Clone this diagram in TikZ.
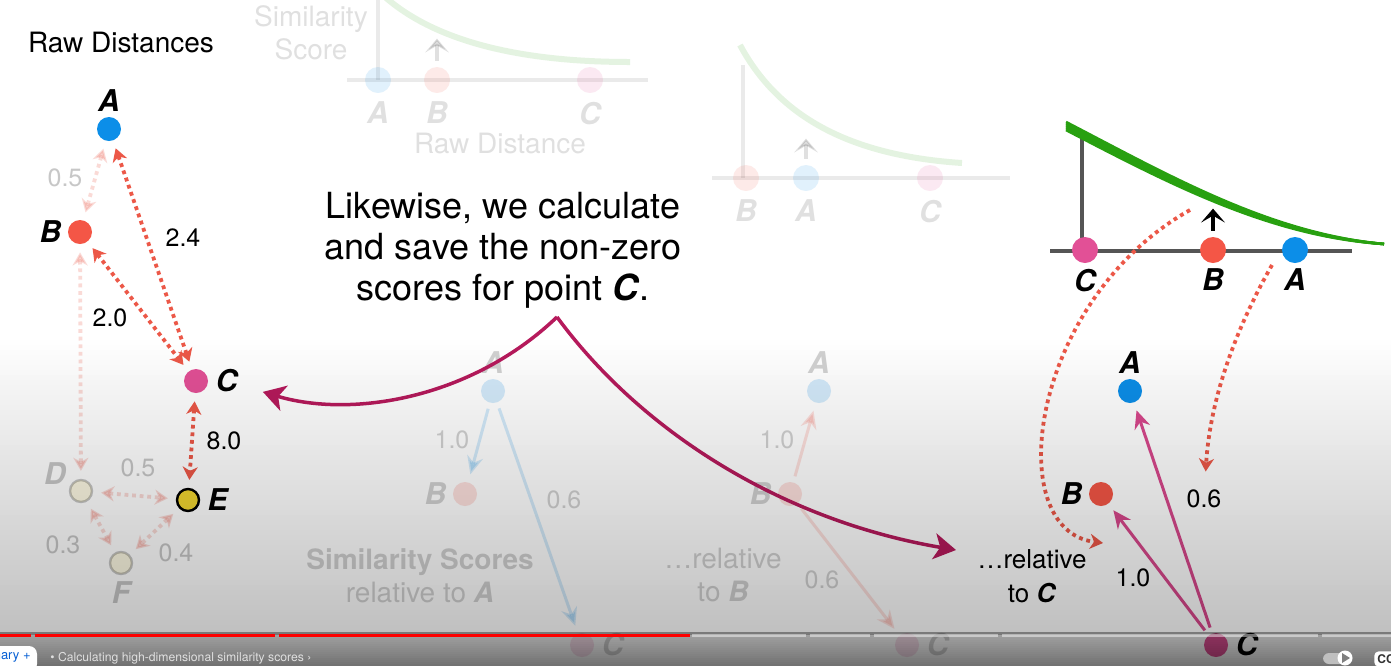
\documentclass[tikz,border=0pt]{standalone}
\usepackage{fontspec}
\setmainfont{TeX Gyre Heros}
\usetikzlibrary{arrows.meta,positioning,calc}
\definecolor{ptblue}{RGB}{12,142,232}
\definecolor{ptred}{RGB}{244,86,70}
\definecolor{ptpink}{RGB}{226,80,150}
\definecolor{ptyellow}{RGB}{242,214,48}
\definecolor{dotred}{RGB}{236,88,72}
\definecolor{simpink}{RGB}{216,72,140}
\definecolor{curvegreen}{RGB}{40,160,16}
\definecolor{plum}{RGB}{182,26,92}
\definecolor{axisgray}{RGB}{85,85,85}
\definecolor{ytblue}{RGB}{6,95,212}

\begin{document}
\begin{tikzpicture}[x=0.5pt, y=-0.5pt]
\tikzstyle{dot} = [circle, minimum size=12pt, inner sep=0pt]
\tikzstyle{bigdot} = [circle, minimum size=13pt, inner sep=0pt]
\tikzstyle{letter} = [inner sep=1pt, font=\fontsize{15}{15}\selectfont\bfseries\itshape]
\tikzstyle{score} = [inner sep=1pt, font=\fontsize{12.5}{13}\selectfont]
\tikzstyle{caption} = [inner sep=1pt, align=center, font=\fontsize{13}{17}\selectfont]
\tikzstyle{heading} = [inner sep=1pt, align=center, font=\fontsize{14}{16.5}\selectfont]
\tikzstyle{dist} = [dotred, line width=1.9pt, dash pattern=on 1.9pt off 1.9pt, shorten <=4pt, shorten >=4pt, {Stealth[length=6.5pt,width=7.5pt,inset=2pt]}-{Stealth[length=6.5pt,width=7.5pt,inset=2pt]}]
\tikzstyle{hint} = [dotred, line width=1.9pt, dash pattern=on 1.9pt off 1.9pt, -{Stealth[length=6.5pt,width=7.5pt,inset=2pt]}]
\tikzstyle{sim} = [line width=1.5pt, shorten <=3pt, shorten >=4pt, -{Stealth[length=9pt,width=8pt,inset=3pt]}]
\tikzstyle{axis} = [axisgray, line width=2pt]
\tikzstyle{bump} = [line width=2pt, -{Stealth[length=7pt,width=12pt,inset=3.5pt]}]
\tikzstyle{swoop} = [plum, line width=1.75pt, -{Stealth[length=11pt,width=13pt,inset=3pt]}]

\useasboundingbox (0,0) rectangle (1391,666);
\fill[white] (0,0) rectangle (1391,666);

% raw distances
\node[heading] (title) at (121,42) {Raw Distances};
\node[dot, fill=ptblue] (rawA) at (109,129) {};
\node[dot, fill=ptred] (rawB) at (80,232) {};
\node[dot, fill=ptpink] (rawC) at (196,381) {};
\node[dot, fill=ptyellow, draw=black, line width=1.2pt, minimum size=11pt] (rawE) at (188,500) {};
\node[letter, above=1.5pt of rawA] (rawAl) {A};
\node[letter, left=2pt of rawB] (rawBl) {B};
\node[letter, right=2.5pt of rawC] (rawCl) {C};
\node[letter, right=2.5pt of rawE] (rawEl) {E};
\begin{scope}[opacity=0.22]
\node[dot, fill=ptyellow!60, draw=black, line width=1.2pt, minimum size=11pt] (rawD) at (81,491) {};
\node[dot, fill=ptyellow!60, draw=black, line width=1.2pt, minimum size=11pt] (rawF) at (121,563) {};
\node[letter] (rawDl) at (55,474) {D};
\node[letter, below=2pt of rawF] (rawFl) {F};
\draw[dist] (rawA) -- (rawB);
\draw[dist] (rawB) -- (rawD);
\draw[dist] (rawD) -- (rawE);
\draw[dist] (rawD) -- (rawF);
\draw[dist] (rawE) -- (rawF);
\node[score] (dAB) at (65,178) {0.5};
\node[score] (dDE) at (138,468) {0.5};
\node[score] (dDF) at (63,545) {0.3};
\node[score] (dEF) at (176,553) {0.4};
\end{scope}
\draw[dist] (rawA) -- (rawC);
\draw[dist] (rawB) -- (rawC);
\draw[dist] (rawC) -- (rawE);
\node[score] (dAC) at (183,238) {2.4};
\node[score] (dBC) at (110,318) {2.0};
\node[score] (dCE) at (224,441) {8.0};

% curve seen from A (faded)
\begin{scope}[opacity=0.12]
\draw[axis] (378,0) -- (378,80);
\draw[axis] (347,80) -- (648,80);
\draw[curvegreen, line width=3pt] (385,-3) .. controls (440,45) and (530,62) .. (630,62);
\node[bigdot, fill=ptblue] (oneA) at (378,80) {};
\node[bigdot, fill=ptred] (oneB) at (437,80) {};
\node[bigdot, fill=ptpink] (oneC) at (590,80) {};
\node[letter, below=3pt of oneA] (oneAl) {A};
\node[letter, below=3pt of oneB] (oneBl) {B};
\node[letter, below=3pt of oneC] (oneCl) {C};
\draw[bump] ($(oneB.north)+(0,-6)$) -- ++(0,-22);
\node[heading] (oneX) at (500,143) {Raw Distance};
\node[heading] (oneY) at (311,33) {Similarity\\Score};
\end{scope}

% curve seen from B (faded)
\begin{scope}[opacity=0.12]
\draw[axis] (743,65) -- (743,178);
\draw[axis] (712,178) -- (1010,178);
\draw[curvegreen, line width=3pt] (740,45) .. controls (775,110) and (840,155) .. (962,163);
\node[bigdot, fill=ptred] (twoB) at (746,178) {};
\node[bigdot, fill=ptblue] (twoA) at (806,178) {};
\node[bigdot, fill=ptpink] (twoC) at (930,178) {};
\node[letter, below=3pt of twoB] (twoBl) {B};
\node[letter, below=3pt of twoA] (twoAl) {A};
\node[letter, below=3pt of twoC] (twoCl) {C};
\draw[bump] ($(twoA.north)+(0,-6)$) -- ++(0,-20);
\end{scope}

% curve seen from C
\draw[axis] (1082,138) -- (1082,251);
\draw[axis] (1050,251) -- (1352,251);
\foreach \d in {-4,-2,0,2,4}
  \draw[curvegreen, line width=1.3pt] (1066,126+\d) .. controls (1170,180+\d) and (1270,235+0.4*\d) .. (1384,244);
\node[bigdot, fill=ptpink] (curC) at (1085,250) {};
\node[bigdot, fill=ptred] (curB) at (1213,250) {};
\node[bigdot, fill=ptblue] (curA) at (1295,250) {};
\node[letter, below=1.5pt of curC] (curCl) {C};
\node[letter, below=1.5pt of curB] (curBl) {B};
\node[letter, below=1.5pt of curA] (curAl) {A};
\draw[bump] ($(curB.north)+(0,-6)$) -- ++(0,-22);

% scores relative to A (faded)
\begin{scope}[opacity=0.18]
\node[dot, fill=ptblue] (simA) at (493,391) {};
\node[dot, fill=ptred] (simB) at (465,494) {};
\node[dot, fill=ptpink] (simC) at (582,645) {};
\node[letter, above=1.5pt of simA] (simAl) {A};
\node[letter, left=2pt of simB] (simBl) {B};
\node[letter, right=2.5pt of simC] (simCl) {C};
\draw[sim, ptblue] (simA) -- (simB);
\draw[sim, ptblue] (simA) -- (simC);
\node[score] (simAB) at (452,440) {1.0};
\node[score] (simAC) at (564,500) {0.6};
\node[heading] (simText) at (420,576) {\textbf{Similarity Scores}\\relative to \textbf{\textit{A}}};
\end{scope}

% scores relative to B (faded)
\begin{scope}[opacity=0.18]
\node[dot, fill=ptblue] (nbrA) at (819,391) {};
\node[dot, fill=ptred] (nbrB) at (790,494) {};
\node[dot, fill=ptpink] (nbrC) at (907,645) {};
\node[letter, above=1.5pt of nbrA] (nbrAl) {A};
\node[letter, left=2pt of nbrB] (nbrBl) {B};
\node[letter, right=2.5pt of nbrC] (nbrCl) {C};
\draw[sim, ptred] (nbrB) -- (nbrA);
\draw[sim, ptred] (nbrB) -- (nbrC);
\node[score] (nbrBA) at (777,440) {1.0};
\node[score] (nbrBC) at (822,580) {0.6};
\node[heading] (nbrText) at (723,575) {…relative\\to \textbf{\textit{B}}};
\end{scope}

% scores relative to C
\node[dot, fill=ptblue] (relA) at (1130,391) {};
\node[dot, fill=ptred] (relB) at (1101,494) {};
\node[dot, fill=ptpink] (relC) at (1216,645) {};
\node[letter, above=1.5pt of relA] (relAl) {A};
\node[letter, left=2pt of relB] (relBl) {B};
\node[letter, right=2.5pt of relC] (relCl) {C};
\draw[sim, simpink] (relC) -- (relA);
\draw[sim, simpink] (relC) -- (relB);
\node[score] (relCA) at (1204,499) {0.6};
\node[score] (relCB) at (1133,578) {1.0};
\node[caption] (relText) at (1032,576) {…relative\\to \textbf{\textit{C}}};
\coordinate (hintB) at (1190,210);
\coordinate (hintBend) at (1103,543);
\coordinate (hintA) at (1272,265);
\draw[hint] (hintB) .. controls (1030,300) and (1000,530) .. (hintBend);
\draw[hint, shorten >=8pt] (hintA) .. controls (1235,330) and (1210,400) .. (relCA);

% note and arrows
\node[align=center, inner sep=1pt, font=\fontsize{18}{20.5}\selectfont] (note) at (503,250)
  {Likewise, we calculate\\and save the non-zero\\scores for point \textbf{\textit{C}}.};
\coordinate (split) at (557,317);
\coordinate (tipR) at (956,550);
\draw[swoop, shorten >=12pt] (split) .. controls (470,400) and (350,418) .. (rawCl);
\draw[swoop] (split) .. controls (640,430) and (780,520) .. (tipR);

% player shade
\foreach \k [evaluate=\k as \op using 0.0042*\k] in {0,...,59}
  \fill[black, fill opacity=\op] (0,335+5*\k) rectangle ++(1391,5.3);
\foreach \k [evaluate=\k as \op using 0.36+0.012*\k] in {0,...,16}
  \fill[black, fill opacity=\op] (0,632+2*\k) rectangle ++(1391,2.3);

% progress bar
\foreach \a/\b in {0/31, 35/275, 279/690}
  \draw[red, line width=1.5pt] (\a,635) -- (\b,635);
\foreach \a/\b in {692/806, 810/870, 874/998, 1002/1318, 1322/1391}
  \draw[white, opacity=0.45, line width=1.5pt] (\a,635) -- (\b,635);
\fill[white, rounded corners=4pt] (-20,646) rectangle (37,672);
\node[anchor=east, inner sep=0pt, text=ytblue, font=\fontsize{6.5}{7}\selectfont] (chapTab) at (31,657) {nary +};
\node[anchor=west, inner sep=0pt, text=white!88!black, font=\fontsize{6.1}{7}\selectfont] (chapter) at (50,658)
  {• Calculating high-dimensional similarity scores ›};
\fill[white!75!black, rounded corners=3pt] (1323,653) rectangle (1352,664);
\node[circle, fill=white, minimum size=7.5pt, inner sep=0pt] (toggle) at (1345,658) {};
\fill[gray] (1342,653) -- (1350,658) -- (1342,663) -- cycle;
\node[anchor=west, fill=white, rounded corners=2pt, inner sep=1.5pt, text=black!80, font=\fontsize{6}{6}\selectfont\bfseries] (cc) at (1374,659) {CC};
\end{tikzpicture}
\end{document}
